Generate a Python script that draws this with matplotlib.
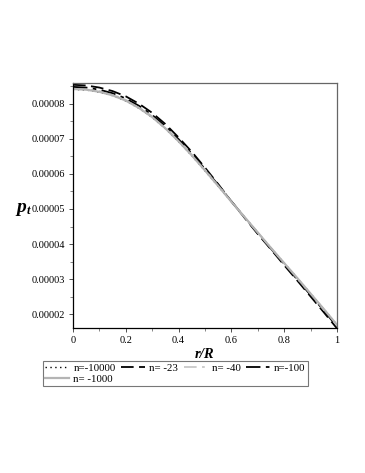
import matplotlib
matplotlib.use("Agg")
import matplotlib.pyplot as plt
from matplotlib.ticker import MultipleLocator, FormatStrFormatter

plt.rcParams['font.family'] = ['Liberation Serif', 'DejaVu Serif']

r = [0.00, 0.05, 0.10, 0.15, 0.20, 0.25, 0.30, 0.35, 0.40, 0.45, 0.50,
     0.55, 0.60, 0.65, 0.70, 0.75, 0.80, 0.85, 0.90, 0.95, 1.00]

# values in units of 1e-5
p_10000 = [8.41, 8.39, 8.33, 8.23, 8.08, 7.87, 7.61, 7.29, 6.92, 6.52, 6.09,
           5.65, 5.21, 4.77, 4.33, 3.89, 3.46, 3.03, 2.59, 2.15, 1.70]
p_23 = [8.54, 8.52, 8.46, 8.36, 8.21, 8.00, 7.74, 7.42, 7.04, 6.63, 6.18,
        5.71, 5.22, 4.75, 4.29, 3.85, 3.40, 2.96, 2.51, 2.06, 1.60]
p_40 = [8.44, 8.42, 8.36, 8.26, 8.11, 7.90, 7.64, 7.32, 6.95, 6.55, 6.12,
        5.67, 5.21, 4.77, 4.33, 3.89, 3.45, 3.02, 2.58, 2.14, 1.69]
p_100 = [8.48, 8.46, 8.40, 8.30, 8.15, 7.94, 7.68, 7.36, 6.99, 6.58, 6.14,
         5.69, 5.22, 4.76, 4.31, 3.87, 3.43, 2.99, 2.55, 2.11, 1.65]
p_1000 = [8.42, 8.40, 8.34, 8.24, 8.09, 7.88, 7.62, 7.30, 6.93, 6.53, 6.10,
          5.66, 5.21, 4.77, 4.33, 3.89, 3.46, 3.03, 2.59, 2.15, 1.70]

labels = ["n=-10000", "n= -23", "n= -40", "n=-100", "n= -1000"]
series = [p_10000, p_23, p_40, p_100, p_1000]
scale = 1e-5

styles = [
    dict(color='black', linestyle=(0, (1, 2.5)), lw=1.0),
    dict(color='black', linestyle=(0, (7, 3)), lw=1.3),
    dict(color='#c8c8c8', linestyle=(0, (7, 3, 1.5, 3)), lw=1.3),
    dict(color='black', linestyle=(0, (8, 3, 2, 3)), lw=1.3),
    dict(color='#b4b4b4', linestyle='-', lw=1.6),
]

fig = plt.figure(figsize=(3.65, 4.73), dpi=100)
ax = fig.add_axes([0.2, 0.3059, 0.723, 0.5186])

lines = []
for s, lab, st in zip(series, labels, styles):
    ln, = ax.plot(r, [v * scale for v in s], label=lab, **st)
    lines.append(ln)

ax.set_xlim(0, 1)
ax.set_ylim(0.0000160, 0.0000859)
ax.xaxis.set_minor_locator(MultipleLocator(0.1))
ax.yaxis.set_major_locator(MultipleLocator(0.00001))
ax.yaxis.set_minor_locator(MultipleLocator(0.000005))
ax.yaxis.set_major_formatter(FormatStrFormatter('%.5f'))
ax.set_xticks([0, 0.2, 0.4, 0.6, 0.8, 1.0])
ax.set_xticklabels(['0', '0.2', '0.4', '0.6', '0.8', '1'])
ax.tick_params(axis='both', which='major', labelsize=7.5, direction='out',
               length=3, width=0.6, colors='#333333', labelcolor='black',
               pad=2.5)
ax.tick_params(axis='both', which='minor', direction='out', length=2,
               width=0.5, colors='#555555')

for side in ['left', 'bottom']:
    ax.spines[side].set_color('black')
    ax.spines[side].set_linewidth(0.9)
for side in ['top', 'right']:
    ax.spines[side].set_color('#666666')
    ax.spines[side].set_linewidth(0.9)

ax.set_xlabel('r/R', fontsize=10.5, fontweight='bold', fontstyle='italic',
              labelpad=2)
fig.text(0.058, 0.562, 'p', fontsize=14, fontweight='bold',
         fontstyle='italic', ha='center', va='center')
fig.text(0.078, 0.553, 't', fontsize=9, fontweight='bold',
         fontstyle='italic', ha='center', va='center')

# reorder so that the legend reads row-wise: 4 in first row, 1 in second
order = [0, 4, 1, 2, 3]
leg = fig.legend([lines[i] for i in order], [labels[i] for i in order],
                 loc='upper left', bbox_to_anchor=(0.118, 0.236), ncol=4,
                 fontsize=7.8, frameon=True, fancybox=False,
                 edgecolor='#555555', handlelength=2.2, handletextpad=0.4,
                 columnspacing=0.5, borderpad=0.2, labelspacing=0.1,
                 borderaxespad=0)
leg.get_frame().set_linewidth(0.8)

fig.savefig('out.png', dpi=100)
